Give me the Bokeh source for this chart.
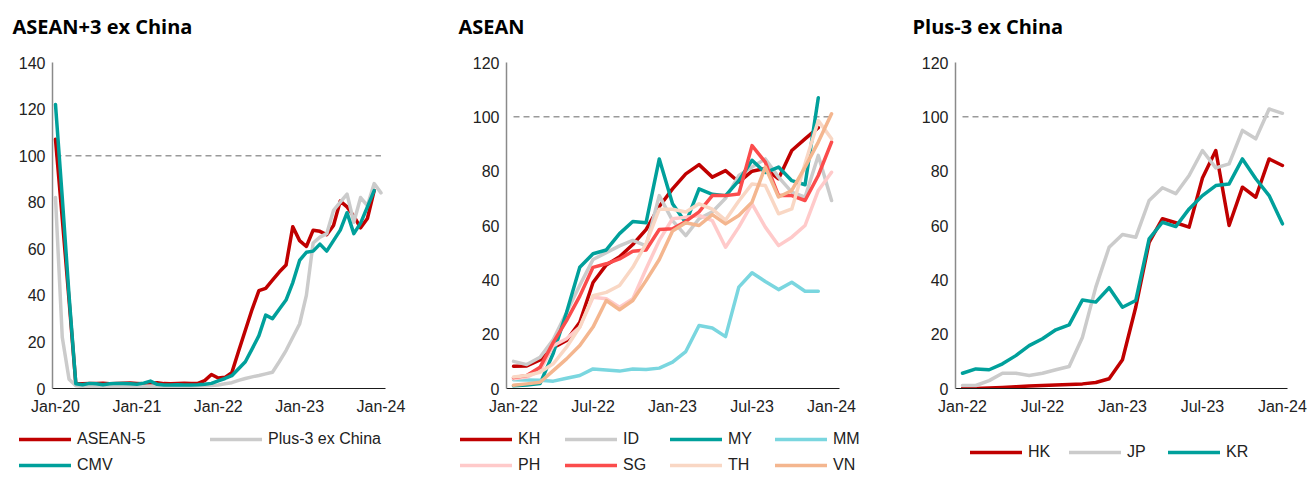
from bokeh.plotting import figure
from bokeh.models import Range1d, Legend, LegendItem, FixedTicker, Label
from bokeh.layouts import row, column
from bokeh.embed import file_html
from bokeh.resources import INLINE

# ---------------- data ----------------
# Panel 1: ASEAN+3 ex China, monthly Jan-20 .. Jan-24 (index 0..48)
p1_tick_pos = [0, 12, 24, 36, 48]
p1_tick_labels = ["Jan-20", "Jan-21", "Jan-22", "Jan-23", "Jan-24"]
asean5 = [107, 73, 38, 2, 2.0, 2.1, 2.2, 2.3, 2.0, 2.2, 2.3, 2.4, 2.2, 2.0, 2.3, 2.5,
          2.1, 2.0, 2.2, 2.3, 2.1, 2.2, 3.4, 6.0, 4.5, 4.8, 6.8, 16, 25, 34, 42, 43,
          46.5, 50, 53, 69.5, 63.5, 61, 68, 67.5, 66, 70, 80.5, 78, 74, 69, 73, 85]
plus3_ex_china = [82, 22, 4, 1.2, 0.8, 1.0, 0.9, 1.0, 1.1, 0.9, 1.0, 1.0, 0.9, 1.0, 1.1, 1.0,
                  0.9, 1.0, 1.0, 1.1, 1.0, 1.1, 1.2, 1.3, 1.5, 2.0, 2.5, 3.5, 4.3, 5.0, 5.6, 6.3,
                  7.0, 11.5, 16.3, 22, 27.7, 40, 62.5, 65, 66.5, 76.5, 80, 83.5, 71.4, 82, 78.5, 88, 84]
cmv = [122, 82, 40, 2, 1.6, 2.2, 2.0, 1.6, 2.0, 2.2, 2.1, 2.0, 1.8, 2.3, 3.2, 1.8,
       1.5, 1.5, 1.6, 1.5, 1.5, 1.6, 1.8, 2.2, 3.3, 4.3, 5.5, 8.5, 11.5, 17, 22.7, 31.5,
       30, 34, 38, 45.5, 55, 58.5, 59, 62, 59, 63.5, 68, 75.5, 66.5, 71, 78, 85]
p1_ref_line = 100

# Panel 2: ASEAN, monthly Jan-22 .. Jan-24 (index 0..24)
p2_tick_pos = [0, 6, 12, 18, 24]
p2_tick_labels = ["Jan-22", "Jul-22", "Jan-23", "Jul-23", "Jan-24"]
kh = [8.2, 8.3, 10.5, 15, 17.7, 24.4, 39, 45.5, 48.5, 53, 58.5, 67, 73.5, 79, 82.4, 77.8,
      80.2, 76, 80, 81, 77.2, 87.6, 91.9, 96]
id_ = [10, 8.8, 11.5, 18, 28, 38, 47.5, 50, 52.5, 54.5, 52.5, 71, 61.8, 56.3, 62.5, 65,
       70, 78.4, 81.5, 84.5, 77.8, 72.3, 70.4, 85.8, 69.2]
my = [1, 1.3, 1.8, 13, 28, 44.6, 49.6, 51, 57, 61.5, 61, 84.5, 68, 61, 73.5, 71.5,
      71, 76.5, 84, 79.5, 81.5, 76.5, 75, 107]
mm = [3.2, 3.1, 3.0, 2.7, 3.8, 4.8, 7.2, 6.8, 6.4, 7.2, 7.0, 7.5, 9.7, 13.6, 23.2, 22.3,
      19.1, 37.3, 42.6, 39.4, 36.4, 39.1, 35.8, 35.8]
ph = [3.6, 4.2, 6.6, 15.8, 18.3, 22.6, 33.6, 33, 29.9, 33, 44, 54.5, 62.5, 63, 63.7, 61.8,
      52, 59.4, 68, 59.4, 52.6, 55.7, 60, 72.9, 79.6]
sg = [4, 4.8, 7.8, 17, 25, 34, 44.6, 45.9, 47.7, 50.5, 51, 58.5, 58.8, 61.5, 65, 71,
      71, 71.6, 89.4, 83.3, 71, 71, 69.2, 78.4, 90.7]
th = [4.2, 4.8, 6, 9.1, 15.2, 22.6, 34.2, 35.4, 37.9, 44.6, 53.3, 66, 66, 65, 68, 66,
      62, 69, 75.3, 74.7, 64.3, 66.1, 82.7, 98.6, 91.9]
vn = [1.2, 1.7, 2.3, 6.6, 10.9, 15.8, 22.6, 32.4, 29, 32.4, 39.7, 47.5, 58, 61, 60, 64,
      60.6, 63.7, 68.6, 81.5, 70.5, 72.9, 81.5, 90.7, 101.1]
p2_ref_line = 100

# Panel 3: Plus-3 ex China, monthly Jan-22 .. Jan-24 (index 0..24)
p3_tick_pos = [0, 6, 12, 18, 24]
p3_tick_labels = ["Jan-22", "Jul-22", "Jan-23", "Jul-23", "Jan-24"]
hk = [0, 0, 0.2, 0.4, 0.6, 0.9, 1.1, 1.3, 1.5, 1.7, 2.2, 3.6, 10.6, 30, 53.8, 62.5,
      61, 59.4, 77.5, 87.6, 60, 74.1, 70.4, 84.5, 82.1]
jp = [1.1, 1.1, 2.9, 5.6, 5.6, 4.8, 5.6, 6.9, 8.1, 18.9, 37.3, 52, 56.7, 55.7, 69.2, 73.9,
      71.7, 78.4, 87.6, 81.2, 82.7, 95, 91.9, 102.9, 101.3]
kr = [5.6, 7.2, 6.9, 9.1, 12.1, 15.8, 18.3, 21.6, 23.4, 32.6, 31.8, 37.1, 29.9, 32.4, 55.1, 61.2,
      59.6, 66.1, 71, 74.7, 75.3, 84.5, 77.2, 71, 60.6]
p3_ref_line = 100

# ---------------- style ----------------
FONT = "Liberation Sans"
TITLE_FONT = "Open Sans"
TXT = "#222222"
C_RED = "#c00000"
C_GRAY = "#cbcbcb"
C_TEAL = "#00a09b"
C_CYAN = "#7ad6df"
C_PINK = "#ffcaca"
C_SG = "#fb4c4c"
C_TH = "#f9d7c4"
C_VN = "#f4b68f"
TITLE_H = 40
CHART_H = 380
LEG_H = 57
LW = 3.5
NAN = float("nan")


def no_align(p):
    try:
        p.frame_align = False
    except Exception:
        pass


def blank_fig(width, height):
    p = figure(width=width, height=height, output_backend="svg", toolbar_location=None,
               x_range=Range1d(0, 1), y_range=Range1d(0, 1),
               x_axis_location=None, y_axis_location=None, min_border=0)
    p.outline_line_color = None
    p.xgrid.grid_line_color = None
    p.ygrid.grid_line_color = None
    p.background_fill_color = "white"
    p.border_fill_color = "white"
    no_align(p)
    return p


def title_fig(width, text, dx):
    p = blank_fig(width, TITLE_H)
    p.add_layout(Label(x=dx, y=14, x_units="screen", y_units="screen", text=text,
                       text_font=TITLE_FONT, text_font_style="bold",
                       text_font_size="20px", text_color="#000000",
                       text_baseline="alphabetic"))
    return p


def chart_fig(width, xr, ymax, ml, mr, ticks, labels):
    p = figure(width=width, height=CHART_H, output_backend="svg", toolbar_location=None,
               x_range=Range1d(*xr), y_range=Range1d(0, ymax),
               min_border_left=ml, min_border_right=mr,
               min_border_top=22, min_border_bottom=32)
    no_align(p)
    p.outline_line_color = None
    p.xgrid.grid_line_color = None
    p.ygrid.grid_line_color = None
    p.background_fill_color = "white"
    p.border_fill_color = "white"
    for ax in (p.xaxis[0], p.yaxis[0]):
        ax.major_tick_line_color = None
        ax.minor_tick_line_color = None
        ax.major_tick_out = 0
        ax.major_tick_in = 0
        ax.minor_tick_out = 0
        ax.minor_tick_in = 0
        ax.major_label_text_font = FONT
        ax.major_label_text_font_size = "16px"
        ax.major_label_text_color = TXT
    p.yaxis.axis_line_color = "#8a8a8a"
    p.yaxis.axis_line_width = 1.5
    p.yaxis.major_label_standoff = 7
    p.yaxis.ticker = FixedTicker(ticks=list(range(0, ymax + 1, 20)))
    p.xaxis.axis_line_color = "#1a1a1a"
    p.xaxis.axis_line_width = 1
    p.xaxis.major_label_standoff = 9
    p.xaxis.ticker = FixedTicker(ticks=ticks)
    p.xaxis.major_label_overrides = {t: l for t, l in zip(ticks, labels)}
    return p


def add_series(p, ys, color):
    xs = list(range(len(ys)))
    return p.line(xs, ys, line_color=color, line_width=LW,
                  line_join="round", line_cap="round")


def add_ref(p, n, level):
    p.line([0, n - 1], [level, level], line_color="#9a9a9a", line_width=1.5,
           line_dash="6 4")


def legend_fig(width, entries, ncols, label_width, lx, ly):
    p = blank_fig(width, LEG_H)
    items = []
    for name, col in entries:
        # legend-only renderer: a single empty (NaN) point so that only the key is drawn
        r = p.line([NAN], [NAN], line_color=col, line_width=LW, line_cap="round")
        items.append(LegendItem(label=name, renderers=[r]))
    leg = Legend(items=items, location=(lx, ly), orientation="horizontal", ncols=ncols,
                 glyph_width=52, glyph_height=18, label_height=18, label_standoff=6,
                 label_width=label_width, spacing=8, padding=0, margin=0,
                 border_line_color=None, background_fill_alpha=0,
                 label_text_font=FONT, label_text_font_size="16px",
                 label_text_color=TXT)
    p.add_layout(leg)
    return p


# Panel 1
W1, W2, W3 = 448, 449, 419
c1 = chart_fig(W1, (-0.44, 48.67), 140, 52, 63, p1_tick_pos, p1_tick_labels)
add_ref(c1, len(plus3_ex_china), p1_ref_line)
add_series(c1, asean5, C_RED)
add_series(c1, plus3_ex_china, C_GRAY)
add_series(c1, cmv, C_TEAL)
t1 = title_fig(W1, "ASEAN+3 ex China", 12)
l1 = legend_fig(W1, [("ASEAN-5", C_RED), ("Plus-3 ex China", C_GRAY), ("CMV", C_TEAL)],
                2, 125, 19, 3)

# Panel 2
c2 = chart_fig(W2, (-0.53, 24.6), 120, 58, 58, p2_tick_pos, p2_tick_labels)
add_ref(c2, len(id_), p2_ref_line)
series2 = [("KH", kh, C_RED), ("ID", id_, C_GRAY), ("MY", my, C_TEAL), ("MM", mm, C_CYAN),
           ("PH", ph, C_PINK), ("SG", sg, C_SG), ("TH", th, C_TH), ("VN", vn, C_VN)]
for name, ys, col in series2:
    add_series(c2, ys, col)
t2 = title_fig(W2, "ASEAN", 10)
l2 = legend_fig(W2, [(n, c) for n, _, c in series2], 4, 39, 12, 3)

# Panel 3
c3 = chart_fig(W3, (-0.525, 24.38), 120, 58, 29, p3_tick_pos, p3_tick_labels)
add_ref(c3, len(jp), p3_ref_line)
series3 = [("HK", hk, C_RED), ("JP", jp, C_GRAY), ("KR", kr, C_TEAL)]
for name, ys, col in series3:
    add_series(c3, ys, col)
t3 = title_fig(W3, "Plus-3 ex China", 15)
l3 = legend_fig(W3, [(n, c) for n, _, c in series3], 3, 33, 73, 16)

layout = row(column(t1, c1, l1), column(t2, c2, l2), column(t3, c3, l3))
open("out.html", "w").write(file_html(layout, INLINE))
